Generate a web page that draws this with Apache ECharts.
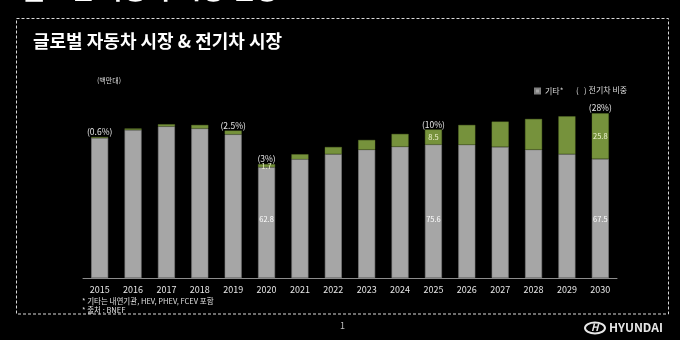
<!DOCTYPE html>
<html>
<head>
<meta charset="utf-8">
<script src="https://cdn.jsdelivr.net/npm/echarts@6/dist/echarts.min.js"></script>
<style>
html,body{margin:0;padding:0;background:#000;}
#c{width:680px;height:340px;}
</style>
</head>
<body>
<div id="c"></div>
<script>
const years = ['2015','2016','2017','2018','2019','2020','2021','2022','2023','2024','2025','2026','2027','2028','2029','2030'];
const others = [79.4, 83.9, 85.9, 84.7, 81.4, 62.8, 67.3, 70.2, 72.7, 74.4, 75.6, 75.5, 74.3, 72.7, 70.2, 67.5];
const ev = [0.5, 0.8, 1.2, 2.0, 2.1, 1.7, 2.8, 4.0, 5.5, 7.2, 8.5, 11.2, 14.3, 17.4, 21.4, 25.8];
const evShare = ['(0.6%)', '', '', '', '(2.5%)', '(3%)', '', '', '', '', '(10%)', '', '', '', '', '(28%)'];
const valueLabelYears = ['2020', '2025', '2030'];

const FONT = '"Noto Sans CJK KR", "Noto Sans", sans-serif';
const chart = echarts.init(document.getElementById('c'));
chart.setOption({
  backgroundColor: '#000',
  animation: false,
  textStyle: { fontFamily: FONT },
  grid: { left: 83, right: 63, top: 101.5, bottom: 62 },
  legend: {
    data: ['기타*'],
    left: 529, top: 82,
    icon: 'rect', itemWidth: 5, itemHeight: 5, itemGap: 4,
    textStyle: { color: '#d9d9d9', fontSize: 8, fontFamily: FONT }
  },
  xAxis: {
    type: 'category',
    data: years,
    axisLine: { lineStyle: { color: '#8c8c8c', width: 1 } },
    axisTick: { show: false },
    axisLabel: { color: '#e6e6e6', fontSize: 9, margin: 7, fontFamily: FONT }
  },
  yAxis: {
    type: 'value', min: 0, max: 100,
    show: false, splitLine: { show: false }
  },
  series: [
    {
      name: '기타*', type: 'bar', stack: 's', barWidth: 17,
      data: others,
      itemStyle: { color: '#a6a6a6', borderColor: '#7f7f7f', borderWidth: 0.6 },
      label: {
        show: true, position: 'insideBottom', distance: 55,
        color: '#ffffff', fontSize: 7.5, fontFamily: FONT,
        formatter: p => valueLabelYears.includes(p.name) ? p.value.toFixed(1) : ''
      }
    },
    {
      name: '전기차', type: 'bar', stack: 's', barWidth: 17,
      data: ev,
      itemStyle: { color: '#76923c', borderColor: '#5f7a2c', borderWidth: 0.4 },
      label: {
        show: true, position: 'inside',
        color: '#eef3cf', fontSize: 7.5, fontFamily: FONT,
        formatter: p => valueLabelYears.includes(p.name) ? p.value.toFixed(1) : ''
      }
    },
    {
      name: '비중', type: 'bar', stack: 's', barWidth: 17,
      data: years.map(() => 0),
      itemStyle: { color: 'transparent' },
      label: {
        show: true, position: 'top', distance: 1,
        color: '#e6e6e6', fontSize: 8.5, fontFamily: FONT,
        formatter: p => evShare[p.dataIndex]
      }
    }
  ],
  graphic: [
    { type: 'text', left: 22, top: -24, style: { text: '글로벌 자동차 시장 전망', fill: '#ffffff', font: 'bold 26px ' + FONT } },
    { type: 'rect', shape: { x: 16.5, y: 18.5, width: 652, height: 295.5 }, style: { fill: 'none', stroke: '#d9d9d9', lineWidth: 1, lineDash: [3, 2] } },
    { type: 'text', left: 33, top: 32, style: { text: '글로벌 자동차 시장 & 전기차 시장', fill: '#ffffff', font: 'bold 18px ' + FONT } },
    { type: 'text', left: 97, top: 77, style: { text: '(백만대)', fill: '#d9d9d9', font: '7px ' + FONT } },
    { type: 'text', left: 576, top: 86, style: { text: '(   ) 전기차 비중', fill: '#d9d9d9', font: '8px ' + FONT } },
    { type: 'text', left: 82, top: 297, style: { text: '* 기타는 내연기관, HEV, PHEV, FCEV 포함', fill: '#e0e0e0', font: '7.5px ' + FONT } },
    { type: 'text', left: 82, top: 306, style: { text: '* 출처 : BNEF', fill: '#e0e0e0', font: '7.5px ' + FONT } },
    { type: 'text', left: 340, top: 321, style: { text: '1', fill: '#bfbfbf', font: '9px ' + FONT } },
    { type: 'ellipse', shape: { cx: 595, cy: 328, rx: 10, ry: 5.5 }, style: { fill: 'none', stroke: '#e6e6e6', lineWidth: 2 } },
    { type: 'text', left: 591, top: 322, style: { text: 'H', fill: '#e6e6e6', font: 'italic bold 10px ' + FONT } },
    { type: 'text', left: 609, top: 321, style: { text: 'HYUNDAI', fill: '#e6e6e6', font: 'bold 12px ' + FONT } }
  ]
});
</script>
</body>
</html>
